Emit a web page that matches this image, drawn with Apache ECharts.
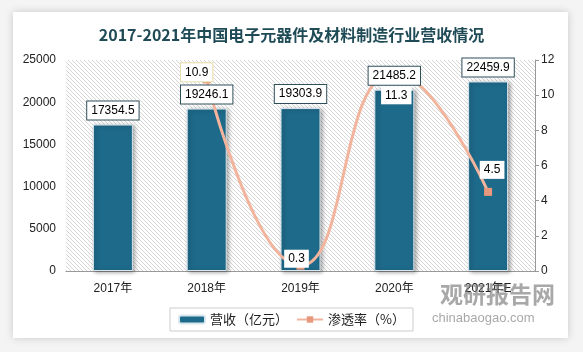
<!DOCTYPE html>
<html>
<head>
<meta charset="utf-8">
<script src="https://cdn.jsdelivr.net/npm/echarts@6/dist/echarts.min.js"></script>
<style>
  html, body { margin: 0; padding: 0; background: #f4f4f4; }
  #main { width: 583px; height: 352px; }
</style>
</head>
<body>
<div id="main"></div>
<script>
var years = ['2017年', '2018年', '2019年', '2020年', '2021年E'];
var revenue = [17354.5, 19246.1, 19303.9, 21485.2, 22459.9];
var rate = [null, 10.9, 0.3, 11.3, 4.5];

// 斜线底纹
function hatch() {
  var c = document.createElement('canvas');
  c.width = 4; c.height = 4;
  var ctx = c.getContext('2d');
  ctx.fillStyle = '#fff';
  ctx.fillRect(0, 0, 4, 4);
  ctx.fillStyle = '#d6d6d6';
  for (var i = 0; i < 4; i++) {
    ctx.fillRect(i, i, 1, 1);
  }
  return c;
}

var font = '"Liberation Sans", "Noto Sans CJK SC", sans-serif';
// 折线标签偏移
var rateLabel = [
  null,
  { offset: [-10, -7], borderColor: '#e6dcaa', borderWidth: 1 },
  { offset: [-4, -7] },
  { offset: [2, 23] },
  { offset: [4, -22] }
];

var chart = echarts.init(document.getElementById('main'));
var option = {
  animation: false,
  textStyle: { fontFamily: font },
  title: {
    text: '2017-2021年中国电子元器件及材料制造行业营收情况',
    left: 'center',
    top: 22,
    textStyle: { fontSize: 16, fontWeight: 'bold', color: '#1f4b57', fontFamily: '"Noto Sans CJK SC", serif' }
  },
  graphic: [
    {
      type: 'rect', z: -10, silent: true,
      shape: { x: 13, y: 12, width: 555, height: 326 },
      style: { fill: '#fff', shadowBlur: 8, shadowColor: 'rgba(0,0,0,0.18)' }
    },
    {
      type: 'text', z: 100, left: 440, top: 283,
      style: { text: '观研报告网', fontSize: 23, fontWeight: 'bold', fill: 'rgba(110,110,110,0.6)', fontFamily: '"Noto Sans CJK SC"' }
    },
    {
      type: 'text', z: 100, left: 432, top: 312,
      style: { text: 'chinabaogao.com', fontSize: 13, fill: 'rgba(110,110,110,0.6)', fontFamily: font }
    }
  ],
  grid: {
    left: 66, right: 48, top: 60, bottom: 81,
    show: true,
    borderWidth: 0,
    backgroundColor: { image: hatch(), repeat: 'repeat' }
  },
  legend: {
    bottom: 21,
    left: 'center',
    itemWidth: 26,
    itemHeight: 8,
    itemGap: 8,
    padding: [5, 8],
    borderColor: '#cccccc',
    borderWidth: 1,
    backgroundColor: '#fff',
    textStyle: { fontSize: 13, color: '#222', fontFamily: '"Noto Sans CJK SC"' },
    data: ['营收（亿元）', '渗透率（%）']
  },
  xAxis: {
    type: 'category',
    data: years,
    axisLine: { lineStyle: { color: '#999' } },
    axisTick: { show: false },
    axisLabel: { color: '#222', fontSize: 12, margin: 12 }
  },
  yAxis: [
    {
      type: 'value', min: 0, max: 25000, interval: 5000,
      axisLine: { show: false },
      axisTick: { show: false },
      splitLine: { show: false },
      axisLabel: { color: '#222', fontSize: 12, margin: 10, formatter: function (v) { return String(v); } }
    },
    {
      type: 'value', min: 0, max: 12, interval: 2,
      position: 'right',
      axisLine: { show: true, lineStyle: { color: '#999' } },
      axisTick: { show: true, length: 4, lineStyle: { color: '#999' } },
      splitLine: { show: false },
      axisLabel: { color: '#222', fontSize: 12, margin: 6 }
    }
  ],
  series: [
    {
      name: '营收（亿元）',
      type: 'bar',
      barWidth: 40,
      z: 2,
      data: revenue,
      itemStyle: {
        color: '#1e6a8a',
        borderColor: '#d8e6ee',
        borderWidth: 1,
        shadowBlur: 4,
        shadowOffsetX: 2,
        shadowOffsetY: 1,
        shadowColor: 'rgba(0,0,0,0.35)'
      }
    },
    {
      name: '渗透率（%）',
      type: 'line',
      yAxisIndex: 1,
      smooth: true,
      z: 3,
      data: rate.map(function (v, i) {
        if (v === null) return v;
        var l = rateLabel[i];
        return {
          value: v,
          label: {
            offset: l.offset,
            borderColor: l.borderColor || 'transparent',
            borderWidth: l.borderWidth || 0
          }
        };
      }),
      symbol: 'rect',
      symbolSize: 8,
      lineStyle: { color: '#f2b49c', width: 3 },
      itemStyle: { color: '#e8987c' },
      label: {
        show: true,
        position: 'inside',
        color: '#000',
        fontSize: 12,
        backgroundColor: '#fff',
        padding: [3, 4]
      }
    },
    {
      // 柱子数值标签，置于折线之上
      name: 'revenueLabel',
      type: 'bar',
      barWidth: 40,
      barGap: '-100%',
      z: 4,
      silent: true,
      data: revenue,
      itemStyle: { color: 'transparent' },
      label: {
        show: true,
        position: 'top',
        distance: 5,
        color: '#000',
        fontSize: 12,
        backgroundColor: '#fff',
        borderColor: '#2f4f5a',
        borderWidth: 1,
        padding: [3, 4]
      }
    }
  ]
};
chart.setOption(option);
</script>
</body>
</html>
